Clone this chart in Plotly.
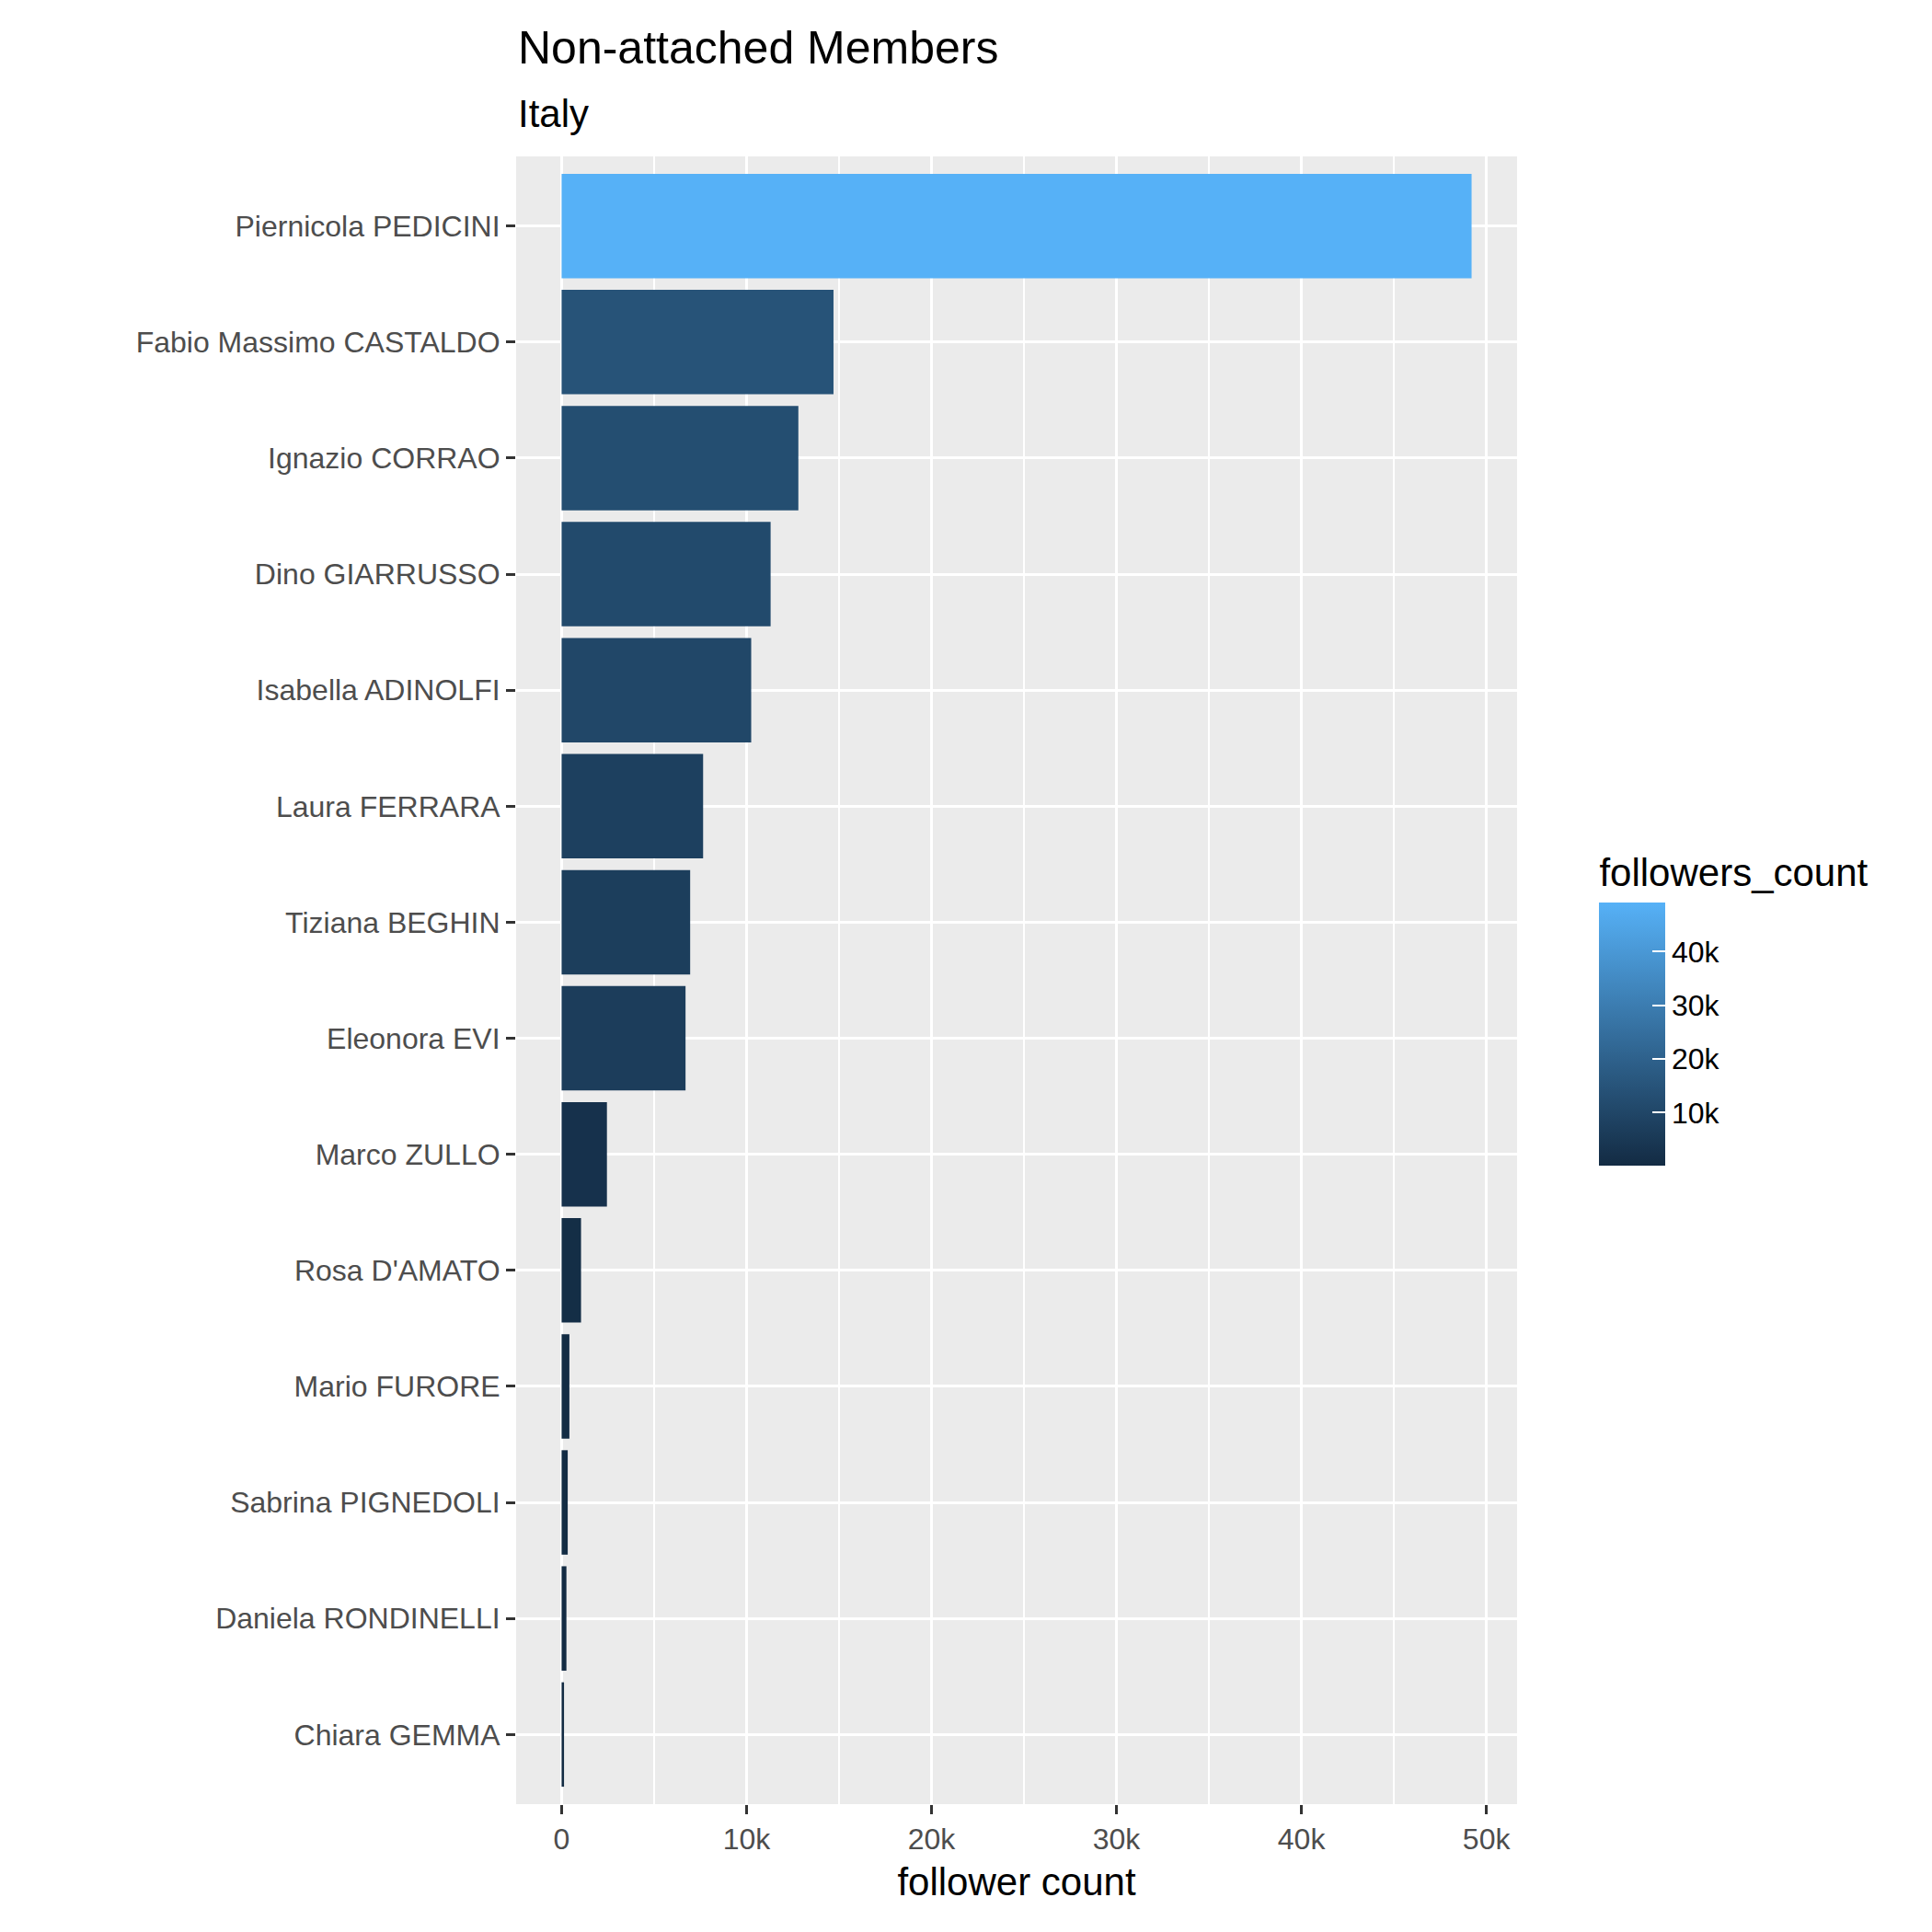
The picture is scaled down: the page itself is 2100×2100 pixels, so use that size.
import plotly.graph_objects as go

names = ["Piernicola PEDICINI", "Fabio Massimo CASTALDO", "Ignazio CORRAO", "Dino GIARRUSSO",
         "Isabella ADINOLFI", "Laura FERRARA", "Tiziana BEGHIN", "Eleonora EVI", "Marco ZULLO",
         "Rosa D'AMATO", "Mario FURORE", "Sabrina PIGNEDOLI", "Daniela RONDINELLI", "Chiara GEMMA"]
followers = [49200, 14700, 12800, 11300, 10250, 7650, 6950, 6700, 2450, 1050, 420, 330, 260, 130]
x_ticks = [0, 10000, 20000, 30000, 40000, 50000]
cbar_ticks = [10000, 20000, 30000, 40000]

W, H = 2100, 2100
ml, mr, mt, mb = 553, 459, 162, 147

fig = go.Figure()
fig.add_trace(go.Bar(
    x=followers[::-1], y=names[::-1], orientation="h", width=0.9,
    marker=dict(color=followers[::-1], colorscale=[[0, "#132B43"], [1, "#56B1F7"]],
                cmin=min(followers), cmax=max(followers), line_width=0,
                colorbar=dict(title=dict(text="followers_count", side="top",
                                         font=dict(size=42, color="black")),
                              tickvals=cbar_ticks, ticks="inside", tickcolor="white",
                              ticklen=14, tickwidth=2, outlinewidth=0, thickness=72,
                              len=0.2, lenmode="fraction", y=0.382, yanchor="bottom",
                              x=1.073, xanchor="left", tickfont=dict(size=32, color="black"))),
    showlegend=False))

fig.update_layout(
    width=W, height=H, margin=dict(l=ml, r=mr, t=mt, b=mb),
    paper_bgcolor="white", plot_bgcolor="#EBEBEB",
    font=dict(family="Liberation Sans, Arial", color="#4D4D4D", size=32),
    bargap=0.1,
    xaxis=dict(range=[-2460, 51660], tickvals=x_ticks, gridcolor="white", gridwidth=3,
               ticks="outside", ticklen=10, tickcolor="#333333", tickwidth=3,
               zeroline=False, minor=dict(dtick=5000, tick0=5000, showgrid=True,
                                         gridcolor="white", gridwidth=1.5),
               title=dict(text="follower count", font=dict(size=42, color="black"), standoff=14)),
    yaxis=dict(gridcolor="white", gridwidth=3, ticks="outside", ticklen=10,
               tickcolor="#333333", tickwidth=3, range=[-0.6, 13.6]),
    annotations=[
        dict(text="Non-attached Members", xref="paper", yref="paper", x=0, y=1 + 118 / 1791,
             xanchor="left", yanchor="middle", showarrow=False, font=dict(size=50, color="black")),
        dict(text="Italy", xref="paper", yref="paper", x=0, y=1 + 46 / 1791,
             xanchor="left", yanchor="middle", showarrow=False, font=dict(size=42, color="black")),
    ],
)

fig.write_html("out.html")
